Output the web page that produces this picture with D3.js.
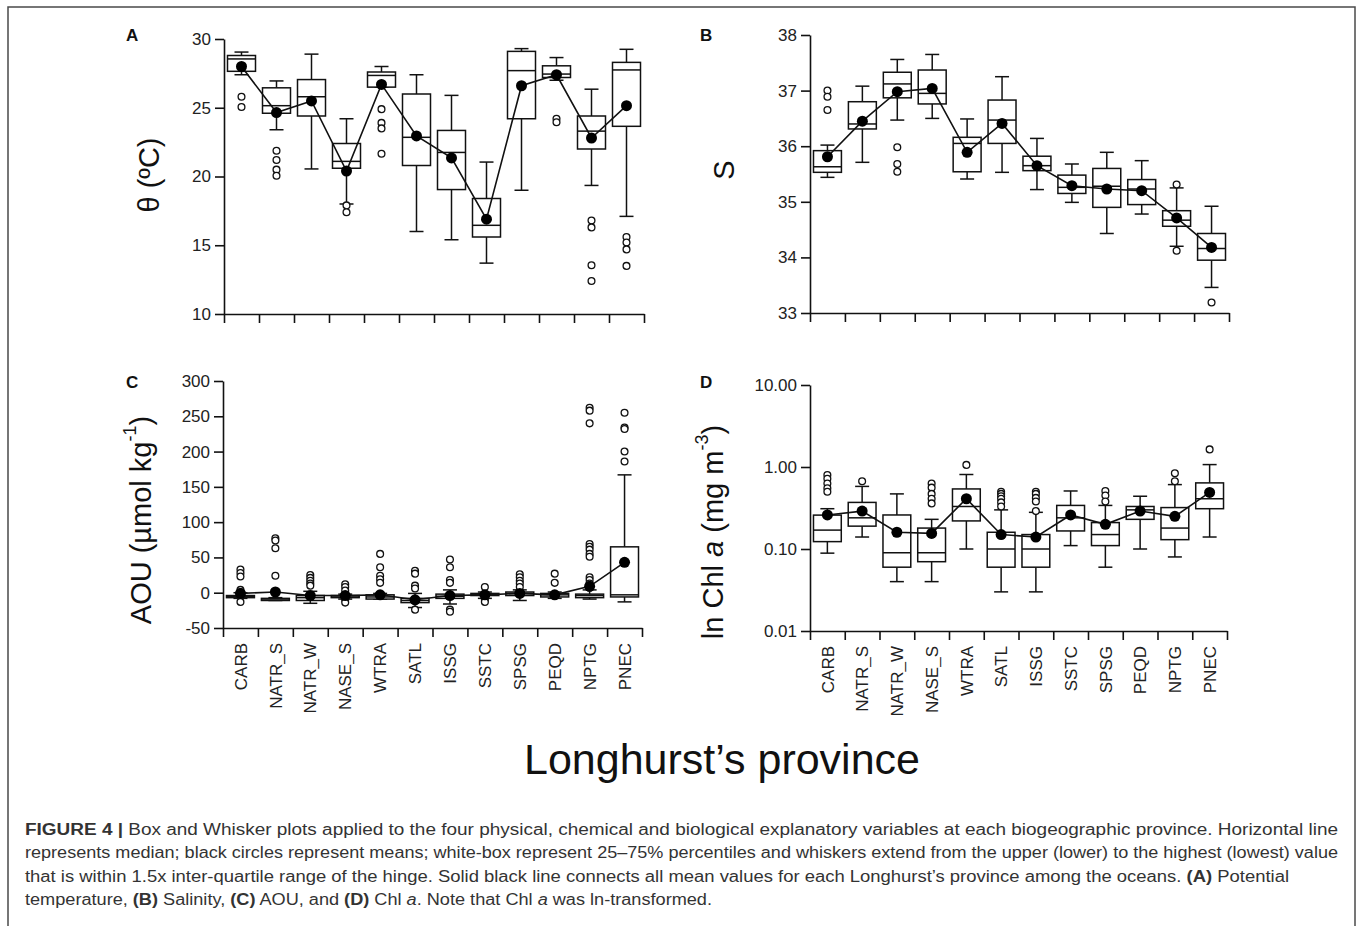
<!DOCTYPE html>
<html>
<head>
<meta charset="utf-8">
<script src="https://cdn.jsdelivr.net/npm/d3@7"></script>
<style>
  body { margin: 0; background: #fff; }
  svg { display: block; font-family: "Liberation Sans", Arial, sans-serif; }
</style>
</head>
<body>
<svg id="fig" width="1357" height="926"></svg>
<script>
// provinces along the x axis
var provinces = ["CARB", "NATR_S", "NATR_W", "NASE_S", "WTRA", "SATL", "ISSG", "SSTC", "SPSG", "PEQD", "NPTG", "PNEC"];

// each box: [whisker low, q1, median, q3, whisker high]
var thetaBoxes = [[27.4, 27.65, 28.55, 28.8, 29.05], [23.4, 24.6, 25.15, 26.45, 26.95], [20.55, 24.4, 25.8, 27.05, 28.9],
  [18.0, 20.6, 21.1, 22.4, 24.2], [26.5, 26.5, 27.35, 27.6, 28.0], [16.0, 20.8, 22.85, 26.0, 27.4],
  [15.4, 19.05, 21.75, 23.35, 25.9], [13.7, 15.6, 16.45, 18.4, 21.05], [19.0, 24.2, 27.7, 29.1, 29.3],
  [27.0, 27.2, 27.45, 28.05, 28.65], [19.35, 22.0, 23.3, 24.4, 26.35], [17.1, 23.65, 27.75, 28.3, 29.25]];
var thetaMeans = [28.0, 24.65, 25.5, 20.4, 26.7, 22.95, 21.35, 16.9, 26.6, 27.4, 22.8, 25.15];
var thetaOutliers = [[25.8, 25.05], [21.87, 21.2, 20.5, 20.05], [], [17.9, 17.4], [24.9, 23.9, 23.5, 21.65], [], [], [], [],
  [24.2, 23.95], [16.8, 16.3, 13.55, 12.4], [15.6, 15.2, 14.7, 13.5]];

var salBoxes = [[35.44, 35.53, 35.63, 35.92, 36.02], [35.71, 36.31, 36.40, 36.8, 37.08], [36.47, 36.87, 37.12, 37.33, 37.56],
  [36.50, 36.76, 36.95, 37.37, 37.65], [35.41, 35.54, 36.05, 36.16, 36.49], [35.53, 36.05, 36.47, 36.83, 37.25],
  [35.22, 35.56, 35.65, 35.82, 36.14], [34.99, 35.15, 35.26, 35.48, 35.68], [34.43, 34.90, 35.28, 35.60, 35.89],
  [34.78, 34.95, 35.23, 35.40, 35.74], [34.20, 34.56, 34.67, 34.84, 35.25], [33.46, 33.95, 34.16, 34.43, 34.92]];
var salMeans = [35.81, 36.45, 36.98, 37.04, 35.89, 36.41, 35.65, 35.29, 35.23, 35.2, 34.71, 34.18];
var salOutliers = [[37.0, 36.89, 36.65], [], [35.98, 35.68, 35.54], [], [], [], [], [], [], [], [35.31, 34.12], [33.19]];

var aouBoxes = [[-8, -7, -5, -4, 0], [-11, -11, -9, -8, -7], [-15, -11, -7, -4, 2], [-9, -7, -6, -4, -2],
  [-9, -9, -6, -3, -1], [-21, -14, -11, -8, -1], [-16, -8, -5, -2, 4], [-8, -4, -3, -1, 1],
  [-11, -4, -1, 1, 4], [-8, -6, -3, -1, 1], [-9, -7, -4, -2, 4], [-13, -6, -3, 65, 167]];
var aouMeans = [-1, 1, -4, -4, -3, -10, -4, -3, -1, -3, 9, 43];
var aouOutliers = [[33, 28, 23, 4, 1, -13], [77, 74, 63, 24], [25, 21, 17, 13, 10], [12, 8, 3, -10, -14],
  [55, 36, 24, 19, 14], [31, 27, 10, 6, -24], [47, 36, 18, 14, -24, -27], [8, -10, -13], [26, 22, 17, 13, 8],
  [27, 14], [262, 258, 240, 69, 65, 61, 55, 51, 22, 18, 13, 7], [255, 234, 232, 200, 186]];

var chlBoxes = [[0.089, 0.123, 0.17, 0.259, 0.31], [0.14, 0.19, 0.24, 0.37, 0.58], [0.04, 0.06, 0.09, 0.26, 0.47],
  [0.04, 0.07, 0.09, 0.18, 0.23], [0.10, 0.22, 0.33, 0.54, 0.81], [0.03, 0.06, 0.10, 0.16, 0.30],
  [0.03, 0.06, 0.10, 0.15, 0.28], [0.11, 0.166, 0.24, 0.34, 0.51], [0.06, 0.11, 0.15, 0.21, 0.34],
  [0.10, 0.23, 0.30, 0.33, 0.44], [0.08, 0.13, 0.18, 0.32, 0.61], [0.14, 0.31, 0.41, 0.64, 1.07]];
var chlMeans = [0.26, 0.29, 0.16, 0.155, 0.41, 0.15, 0.14, 0.26, 0.2, 0.29, 0.25, 0.49];
var chlOutliers = [[0.8, 0.72, 0.63, 0.55, 0.5], [0.67], [], [0.63, 0.56, 0.47, 0.41, 0.36], [1.06],
  [0.5, 0.47, 0.44, 0.41, 0.37, 0.33], [0.5, 0.47, 0.42, 0.38, 0.29], [], [0.51, 0.45, 0.38], [], [0.84, 0.67], [1.64]];

// tick labels
var thetaTicks = [10, 15, 20, 25, 30];
var salTicks = [33, 34, 35, 36, 37, 38];
var aouTicks = [-50, 0, 50, 100, 150, 200, 250, 300];
var chlTicks = [0.01, 0.1, 1, 10];

var svg = d3.select("#fig");
var plain = function(d) { return String(d); }; // keeps the hyphen minus of the original

// outer frame
svg.append("rect")
  .attr("x", 8).attr("y", 7).attr("width", 1347).attr("height", 940)
  .attr("fill", "none").attr("stroke", "#4a4a4a").attr("stroke-width", 1.5);

function drawPanel(cfg) {
  var g = svg.append("g");
  var y = cfg.log ? d3.scaleLog() : d3.scaleLinear();
  y.domain(cfg.domain).range([cfg.y1, cfg.y0]);
  var x = d3.scaleBand().domain(provinces).range([cfg.x0, cfg.x1]).paddingInner(0).paddingOuter(0);
  var edges = d3.scaleLinear().domain([0, provinces.length]).range([cfg.x0, cfg.x1]);
  var bw = x.bandwidth() * 0.8;
  var cap = 14;

  // axes
  var yAxis = g.append("g")
    .attr("transform", "translate(" + cfg.x0 + ",0)")
    .call(d3.axisLeft(y).tickValues(cfg.ticks).tickFormat(cfg.fmt).tickSize(9).tickSizeOuter(0).tickPadding(4));
  var xAxis = g.append("g")
    .attr("transform", "translate(0," + cfg.y1 + ")")
    .call(d3.axisBottom(edges).tickValues(d3.range(provinces.length + 1)).tickFormat("").tickSize(9).tickSizeOuter(0));
  g.selectAll(".domain, .tick line").attr("stroke", "#111").attr("stroke-width", 1.6);
  yAxis.selectAll("text").attr("font-size", 17).attr("fill", "#222").style("font-family", "Liberation Sans, Arial, sans-serif");

  if (cfg.labels) {
    var lab = g.append("g")
      .attr("transform", "translate(0," + cfg.y1 + ")")
      .call(d3.axisBottom(x).tickSize(0).tickPadding(0));
    lab.select(".domain").remove();
    lab.selectAll("text")
      .attr("transform", "rotate(-90)")
      .attr("x", -15).attr("y", 0).attr("dy", "0.36em")
      .style("text-anchor", "end")
      .attr("font-size", 17).attr("fill", "#222")
      .style("font-family", "Liberation Sans, Arial, sans-serif");
  }

  var boxes = g.selectAll(".box")
    .data(cfg.boxes)
    .enter().append("g")
      .attr("class", "box")
      .attr("transform", function(d, i) { return "translate(" + (x(provinces[i]) + x.bandwidth() / 2) + ",0)"; });

  boxes.append("line")
    .attr("y1", function(d) { return y(d[0]); }).attr("y2", function(d) { return y(d[1]); })
    .attr("stroke", "#111").attr("stroke-width", 1.5);
  boxes.append("line")
    .attr("y1", function(d) { return y(d[3]); }).attr("y2", function(d) { return y(d[4]); })
    .attr("stroke", "#111").attr("stroke-width", 1.5);
  boxes.append("line")
    .attr("x1", -cap / 2).attr("x2", cap / 2)
    .attr("y1", function(d) { return y(d[0]); }).attr("y2", function(d) { return y(d[0]); })
    .attr("stroke", "#111").attr("stroke-width", 1.5);
  boxes.append("line")
    .attr("x1", -cap / 2).attr("x2", cap / 2)
    .attr("y1", function(d) { return y(d[4]); }).attr("y2", function(d) { return y(d[4]); })
    .attr("stroke", "#111").attr("stroke-width", 1.5);
  boxes.append("rect")
    .attr("x", -bw / 2).attr("width", bw)
    .attr("y", function(d) { return y(d[3]); })
    .attr("height", function(d) { return Math.max(y(d[1]) - y(d[3]), 1); })
    .attr("fill", "#fff").attr("stroke", "#111").attr("stroke-width", 1.5);
  boxes.append("line")
    .attr("x1", -bw / 2).attr("x2", bw / 2)
    .attr("y1", function(d) { return y(d[2]); }).attr("y2", function(d) { return y(d[2]); })
    .attr("stroke", "#111").attr("stroke-width", 1.5);

  // outliers
  boxes.each(function(d, i) {
    d3.select(this).selectAll("circle")
      .data(cfg.outliers[i])
      .enter().append("circle")
        .attr("cx", 0).attr("cy", function(v) { return y(v); })
        .attr("r", 3.4)
        .attr("fill", "#fff").attr("stroke", "#111").attr("stroke-width", 1.3);
  });

  // means line + dots
  var line = d3.line()
    .x(function(d, i) { return x(provinces[i]) + x.bandwidth() / 2; })
    .y(function(d) { return y(d); });
  g.append("path").datum(cfg.means)
    .attr("d", line).attr("fill", "none").attr("stroke", "#111").attr("stroke-width", 1.6);
  g.selectAll(".mean").data(cfg.means)
    .enter().append("circle")
      .attr("class", "mean")
      .attr("cx", function(d, i) { return x(provinces[i]) + x.bandwidth() / 2; })
      .attr("cy", function(d) { return y(d); })
      .attr("r", 5.5).attr("fill", "#000");

  // panel letter
  svg.append("text").attr("x", cfg.letterX).attr("y", cfg.letterY)
    .attr("font-size", 17).attr("font-weight", "bold").attr("fill", "#111").text(cfg.letter);

  // y title
  var t = svg.append("text")
    .attr("transform", "translate(" + cfg.titleX + "," + cfg.titleY + ") rotate(-90)")
    .attr("text-anchor", "middle").attr("dominant-baseline", "central")
    .attr("font-size", 29).attr("fill", "#111");
  cfg.title.forEach(function(p) {
    var s = t.append("tspan").text(p[0]);
    if (p[1] == "i") s.attr("font-style", "italic");
    if (p[1] == "sup") s.attr("font-size", 18).attr("dy", -11);
    if (p[1] == "after") s.attr("dy", 11);
  });
}

drawPanel({ boxes: thetaBoxes, means: thetaMeans, outliers: thetaOutliers, ticks: thetaTicks, fmt: plain,
  domain: [10, 30], x0: 224, x1: 644, y0: 39, y1: 314, labels: false,
  letter: "A", letterX: 126, letterY: 41, titleX: 149, titleY: 175, title: [["θ (ºC)", ""]] });
drawPanel({ boxes: salBoxes, means: salMeans, outliers: salOutliers, ticks: salTicks, fmt: plain,
  domain: [33, 38], x0: 810, x1: 1229, y0: 35, y1: 313, labels: false,
  letter: "B", letterX: 700, letterY: 41, titleX: 724, titleY: 170, title: [["S", ""]] });
drawPanel({ boxes: aouBoxes, means: aouMeans, outliers: aouOutliers, ticks: aouTicks, fmt: plain,
  domain: [-50, 300], x0: 223, x1: 642, y0: 381, y1: 628, labels: true,
  letter: "C", letterX: 126, letterY: 388, titleX: 141, titleY: 520,
  title: [["AOU (µmol kg", ""], ["-1", "sup"], [")", "after"]] });
drawPanel({ boxes: chlBoxes, means: chlMeans, outliers: chlOutliers, ticks: chlTicks, fmt: d3.format(".2f"), log: true,
  domain: [0.01, 10], x0: 810, x1: 1227, y0: 385, y1: 631, labels: true,
  letter: "D", letterX: 700, letterY: 388, titleX: 713, titleY: 532,
  title: [["ln Chl ", ""], ["a", "i"], [" (mg m", ""], ["-3", "sup"], [")", "after"]] });

// shared x title
svg.append("text").attr("x", 722).attr("y", 774).attr("text-anchor", "middle")
  .attr("font-size", 43).attr("fill", "#111").text("Longhurst’s province");

// caption
var captionLines = [
  [["FIGURE 4 | ", "b"], ["Box and Whisker plots applied to the four physical, chemical and biological explanatory variables at each biogeographic province. Horizontal line", ""]],
  [["represents median; black circles represent means; white-box represent 25–75% percentiles and whiskers extend from the upper (lower) to the highest (lowest) value", ""]],
  [["that is within 1.5x inter-quartile range of the hinge. Solid black line connects all mean values for each Longhurst’s province among the oceans. ", ""], ["(A)", "b"], [" Potential", ""]],
  [["temperature, ", ""], ["(B)", "b"], [" Salinity, ", ""], ["(C)", "b"], [" AOU, and ", ""], ["(D)", "b"], [" Chl ", ""], ["a", "i"], [". Note that Chl ", ""], ["a", "i"], [" was ln-transformed.", ""]]
];
var lineY = [835, 858, 882, 905];
var lineW = [1313, 1313, 1264, 687];
captionLines.forEach(function(parts, k) {
  var t = svg.append("text").attr("x", 25).attr("y", lineY[k]).attr("font-size", 16).attr("fill", "#333")
    .attr("textLength", lineW[k]).attr("lengthAdjust", "spacingAndGlyphs");
  parts.forEach(function(p) {
    var s = t.append("tspan").text(p[0]);
    if (p[1] == "b") s.attr("font-weight", "bold");
    if (p[1] == "i") s.attr("font-style", "italic");
  });
});
</script>
</body>
</html>
